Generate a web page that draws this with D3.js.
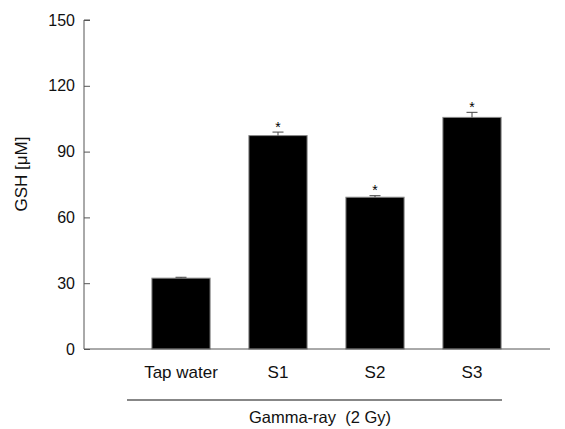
<!DOCTYPE html>
<html>
<head>
<meta charset="utf-8">
<script src="https://cdn.jsdelivr.net/npm/d3@7"></script>
<style>
  body { margin: 0; background: #fff; }
  svg { display: block; font-family: "Liberation Sans", Arial, sans-serif; }
</style>
</head>
<body>
<div id="chart"></div>
<script>
// values
const groups = ['Tap water', 'S1', 'S2', 'S3'];
const means = [32.3, 97.3, 69.2, 105.6];
const errors = [0.4, 1.6, 0.7, 2.3];
const significant = [false, true, true, true];
const yTicks = [0, 30, 60, 90, 120, 150];
const yLabel = 'GSH [\u03bcM]';
const groupLabel = 'Gamma-ray  (2 Gy)';

const width = 565, height = 429;
const axisLeft = 84, axisRight = 550, axisBottom = 349, axisTop = 20;

const svg = d3.select('#chart').append('svg')
    .attr('width', width)
    .attr('height', height);

const x = d3.scaleBand()
    .domain(groups)
    .range([132.5, 520.5])
    .paddingInner(0.4)
    .paddingOuter(0.2);

const y = d3.scaleLinear()
    .domain([0, 150])
    .range([axisBottom, axisTop]);

// bars
svg.selectAll('rect.bar')
    .data(groups)
    .enter()
    .append('rect')
    .attr('class', 'bar')
    .attr('x', d => x(d))
    .attr('width', x.bandwidth())
    .attr('y', (d, i) => y(means[i]))
    .attr('height', (d, i) => y(0) - y(means[i]))
    .attr('fill', '#000')
    .attr('stroke', '#888')
    .attr('stroke-width', 1);

// error bars (upper only) + significance stars
const errG = svg.append('g').attr('stroke', '#444').attr('stroke-width', 1);
groups.forEach((g, i) => {
    const cx = x(g) + x.bandwidth() / 2;
    const top = y(means[i] + errors[i]);
    errG.append('line')
        .attr('x1', cx).attr('x2', cx)
        .attr('y1', y(means[i])).attr('y2', top);
    errG.append('line')
        .attr('x1', cx - 5.5).attr('x2', cx + 5.5)
        .attr('y1', top).attr('y2', top);
    if (significant[i]) {
        svg.append('text')
            .attr('x', cx)
            .attr('y', top - 0.5)
            .attr('text-anchor', 'middle')
            .attr('font-size', 14)
            .attr('fill', '#000')
            .text('*');
    }
});

// y axis (ticks point inward)
const yAxis = svg.append('g')
    .attr('transform', `translate(${axisLeft},0)`)
    .call(d3.axisRight(y).tickValues(yTicks).tickSize(6).tickFormat(''));
yAxis.select('.domain').attr('d', `M6,${axisTop}H0V${axisBottom}`).attr('stroke', '#555');
yAxis.selectAll('.tick line').attr('stroke', '#555');

svg.append('g').selectAll('text')
    .data(yTicks)
    .enter()
    .append('text')
    .attr('x', axisLeft - 9)
    .attr('y', d => y(d))
    .attr('dy', '0.35em')
    .attr('text-anchor', 'end')
    .attr('font-size', 16)
    .attr('fill', '#111')
    .text(d => d);

// x axis line
svg.append('line')
    .attr('x1', axisLeft).attr('x2', axisRight)
    .attr('y1', axisBottom).attr('y2', axisBottom)
    .attr('stroke', '#555')
    .attr('stroke-width', 1);

// category labels
svg.append('g').selectAll('text')
    .data(groups)
    .enter()
    .append('text')
    .attr('x', d => x(d) + x.bandwidth() / 2)
    .attr('y', 378)
    .attr('text-anchor', 'middle')
    .attr('font-size', 17)
    .attr('fill', '#111')
    .text(d => d);

// group bracket line + label
svg.append('line')
    .attr('x1', 127).attr('x2', 502)
    .attr('y1', 400).attr('y2', 400)
    .attr('stroke', '#111')
    .attr('stroke-width', 1.2);

svg.append('text')
    .attr('x', 320)
    .attr('y', 423)
    .attr('text-anchor', 'middle')
    .attr('font-size', 16.5)
    .attr('fill', '#111')
    .style('white-space', 'pre')
    .text(groupLabel);

// y label
svg.append('text')
    .attr('transform', 'translate(27,174) rotate(-90)')
    .attr('text-anchor', 'middle')
    .attr('font-size', 17)
    .attr('fill', '#111')
    .text(yLabel);
</script>
</body>
</html>
